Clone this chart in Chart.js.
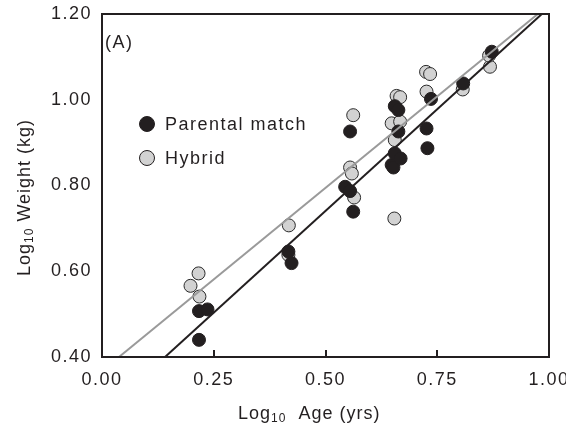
<!DOCTYPE html>
<html lang="en">
<head>
<meta charset="UTF-8">
<title>Log10 Weight vs Log10 Age</title>
<script src="https://cdn.jsdelivr.net/npm/chart.js"></script>
<style>
  html, body { margin: 0; padding: 0; background: #fff; }
  #wrap { width: 566px; height: 436px; }
</style>
</head>
<body>
<div id="wrap"><canvas id="ageChart" width="566" height="436"></canvas></div>
<script>
// log10 age (yrs) / log10 weight (kg)
const parentalX = [0.217, 0.217, 0.236, 0.417, 0.424, 0.544, 0.555, 0.562, 0.555, 0.648, 0.652,
                   0.655, 0.668, 0.663, 0.655, 0.663, 0.726, 0.728, 0.736, 0.808, 0.872];
const parentalY = [0.440, 0.507, 0.511, 0.646, 0.619, 0.797, 0.787, 0.739, 0.926, 0.848, 0.842,
                   0.875, 0.863, 0.926, 0.985, 0.976, 0.933, 0.887, 1.002, 1.038, 1.112];

const hybridX = [0.198, 0.216, 0.218, 0.418, 0.417, 0.555, 0.559, 0.564, 0.562, 0.654, 0.648,
                 0.667, 0.655, 0.659, 0.667, 0.725, 0.734, 0.726, 0.807, 0.868, 0.866];
const hybridY = [0.566, 0.595, 0.541, 0.707, 0.638, 0.842, 0.828, 0.772, 0.964, 0.723, 0.945,
                 0.949, 0.906, 1.009, 1.006, 1.065, 1.060, 1.019, 1.024, 1.077, 1.103];

// regression line end points
const parentalFitX = [0.141, 0.984];
const parentalFitY = [0.40, 1.20];
const hybridFitX = [0.038, 0.975];
const hybridFitY = [0.40, 1.20];

const xTicks = [0, 0.25, 0.5, 0.75, 1.0];
const yTicks = [0.4, 0.6, 0.8, 1.0, 1.2];

const seriesNames = ['Parental match', 'Hybrid'];
const panelLabel = '(A)';

const FONT = '"Liberation Sans", Arial, Helvetica, sans-serif';
const BLACK = '#231f20';
const GREY_FILL = '#d2d2d2';
const GREY_LINE = '#9a9a9a';

const pts = (xs, ys) => xs.map((x, i) => ({ x: x, y: ys[i] }));

// text with a subscript part, e.g. Log10
function drawSub(ctx, parts, x, y) {
  let cx = x;
  parts.forEach(p => {
    ctx.font = (p.sub ? '12px ' : '18px ') + FONT;
    ctx.fillText(p.t, cx, y + (p.sub ? 3 : 0));
    cx += ctx.measureText(p.t).width;
  });
}

const extras = {
  id: 'extras',
  beforeDraw(chart) {
    chart.ctx.letterSpacing = '1.5px';
  },
  afterDraw(chart) {
    const ctx = chart.ctx;
    const a = chart.chartArea;
    const xs = chart.scales.x;
    ctx.save();
    ctx.letterSpacing = '1.5px';

    // frame
    ctx.strokeStyle = BLACK;
    ctx.lineWidth = 2;
    ctx.strokeRect(a.left, a.top, a.right - a.left, a.bottom - a.top);

    // inward ticks on the bottom axis
    ctx.beginPath();
    xTicks.forEach(v => {
      const px = Math.round(xs.getPixelForValue(v));
      ctx.moveTo(px, a.bottom);
      ctx.lineTo(px, a.bottom - 7);
    });
    ctx.stroke();

    ctx.fillStyle = BLACK;
    ctx.textBaseline = 'alphabetic';
    ctx.textAlign = 'left';

    // panel label
    ctx.font = '18px ' + FONT;
    ctx.fillText(panelLabel, a.left + 3, a.top + 34);

    // legend
    const legendRows = [
      { name: seriesNames[0], fill: BLACK, border: BLACK, y: 124 },
      { name: seriesNames[1], fill: GREY_FILL, border: BLACK, y: 158 }
    ];
    legendRows.forEach(r => {
      ctx.beginPath();
      ctx.arc(147, r.y, 7.5, 0, Math.PI * 2);
      ctx.fillStyle = r.fill;
      ctx.fill();
      ctx.lineWidth = 1;
      ctx.strokeStyle = r.border;
      ctx.stroke();
      ctx.fillStyle = BLACK;
      ctx.font = '18px ' + FONT;
      ctx.textBaseline = 'middle';
      ctx.fillText(r.name, 165, r.y + 1);
    });

    // axis titles
    ctx.textBaseline = 'alphabetic';
    ctx.letterSpacing = '1px';
    drawSub(ctx, [{ t: 'Log' }, { t: '10', sub: true }, { t: '  Age (yrs)' }], 238, 419);

    ctx.translate(30, 276);
    ctx.rotate(-Math.PI / 2);
    drawSub(ctx, [{ t: 'Log' }, { t: '10', sub: true }, { t: ' Weight (kg)' }], 0, 0);
    ctx.restore();
  }
};

new Chart(document.getElementById('ageChart'), {
  type: 'scatter',
  data: {
    datasets: [
      {
        label: seriesNames[0],
        data: pts(parentalX, parentalY),
        pointRadius: 6.5,
        pointHoverRadius: 6.5,
        backgroundColor: BLACK,
        borderColor: BLACK,
        borderWidth: 1,
        order: 2
      },
      {
        label: seriesNames[1],
        data: pts(hybridX, hybridY),
        pointRadius: 6.5,
        pointHoverRadius: 6.5,
        backgroundColor: GREY_FILL,
        borderColor: '#2a2a2a',
        borderWidth: 1,
        order: 3
      },
      {
        label: 'Parental fit',
        data: pts(parentalFitX, parentalFitY),
        showLine: true,
        pointRadius: 0,
        borderColor: BLACK,
        borderWidth: 2,
        order: 1
      },
      {
        label: 'Hybrid fit',
        data: pts(hybridFitX, hybridFitY),
        showLine: true,
        pointRadius: 0,
        borderColor: GREY_LINE,
        borderWidth: 2,
        order: 1
      }
    ]
  },
  options: {
    responsive: false,
    animation: false,
    layout: { padding: { top: 14, right: 17, left: 0, bottom: 0 } },
    plugins: { legend: { display: false }, tooltip: { enabled: false } },
    scales: {
      x: {
        type: 'linear',
        min: 0,
        max: 1,
        afterBuildTicks: s => { s.ticks = xTicks.map(v => ({ value: v })); },
        afterFit: s => { s.height = 79; s.paddingLeft = 0; s.paddingRight = 0; },
        grid: { display: false, drawTicks: false },
        border: { display: false },
        ticks: {
          padding: 12,
          color: BLACK,
          font: { family: FONT, size: 18 },
          callback: v => v.toFixed(2)
        }
      },
      y: {
        type: 'linear',
        min: 0.4,
        max: 1.2,
        afterBuildTicks: s => { s.ticks = yTicks.map(v => ({ value: v })); },
        afterFit: s => { s.width = 102; s.paddingTop = 0; s.paddingBottom = 0; },
        grid: { display: false, drawTicks: false },
        border: { display: false },
        ticks: {
          padding: 10,
          color: BLACK,
          font: { family: FONT, size: 18 },
          callback: v => v.toFixed(2)
        }
      }
    }
  },
  plugins: [extras]
});
</script>
</body>
</html>
